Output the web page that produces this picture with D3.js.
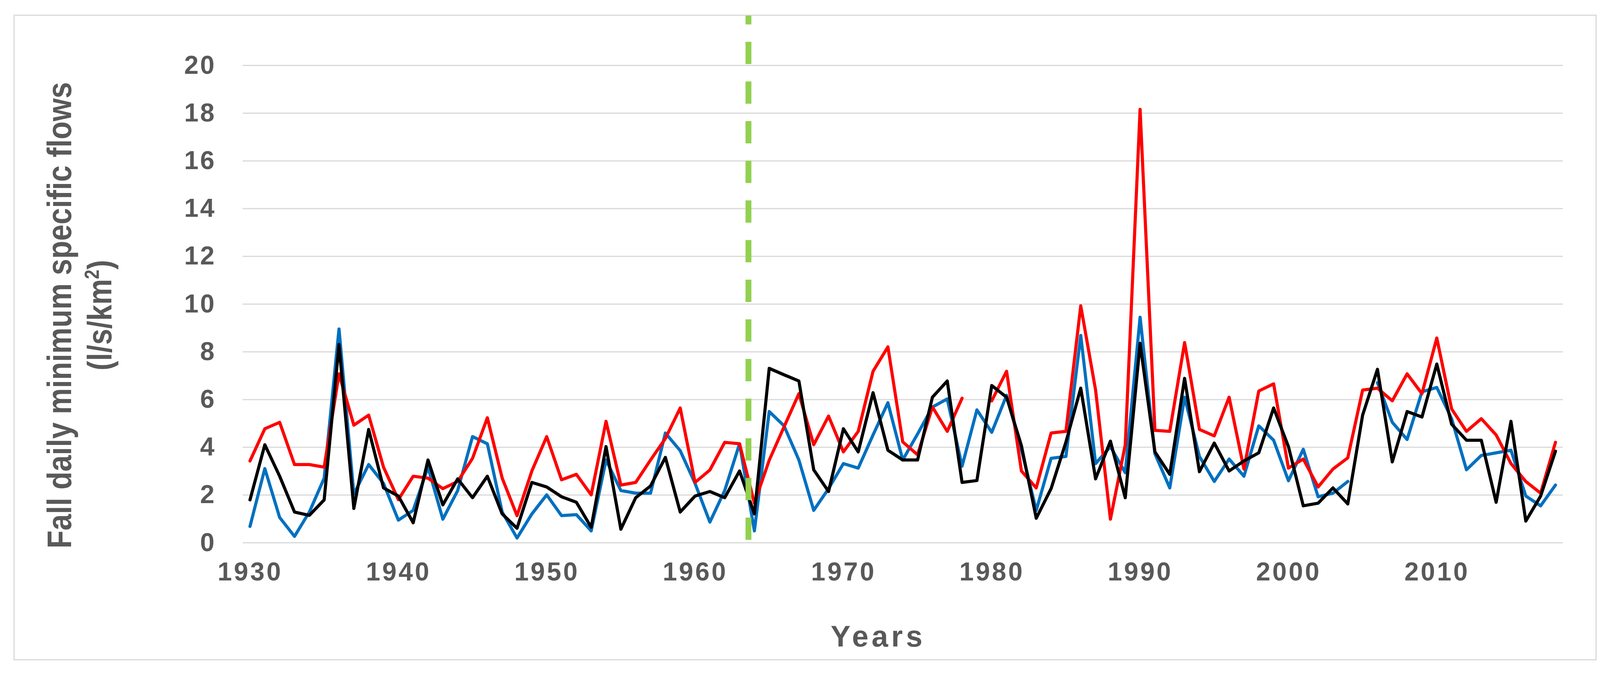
<!DOCTYPE html>
<html>
<head>
<meta charset="utf-8">
<script src="https://cdn.jsdelivr.net/npm/d3@7"></script>
<style>
  body { margin: 0; background: #fff; }
  text { font-family: "Liberation Sans", Arial, sans-serif; font-weight: bold; fill: #595959; }
</style>
</head>
<body>
<svg id="chart"></svg>
<script>
// years 1930..2018
var years = d3.range(1930, 2019);

var blueSeries = [
  0.68, 3.1, 1.05, 0.26, 1.28, 2.7, 8.95, 2.03, 3.27, 2.48,
  0.94, 1.35, 3.16, 0.98, 2.18, 4.44, 4.14, 1.28, 0.19, 1.2,
  2.0, 1.13, 1.17, 0.49, 3.46, 2.18, 2.07, 2.07, 4.59, 3.85,
  2.48, 0.86, 2.18, 4.14, 0.49, 5.49, 4.89, 3.46, 1.35, 2.26,
  3.31, 3.12, 4.51, 5.86, 3.46, 4.55, 5.68, 6.02, 3.2, 5.56,
  4.62, 6.17, 3.9, 1.35, 3.53, 3.61, 8.68, 3.31, 4.02, 2.93,
  9.44, 3.72, 2.29, 6.09, 3.61, 2.56, 3.5, 2.78, 4.89, 4.29,
  2.59, 3.91, 1.92, 2.07, 2.56, null, 6.7, 5.04, 4.32, 6.32,
  6.5, 5.19, 3.05, 3.65, 3.76, 3.87, 1.95, 1.54, 2.41
];

var redSeries = [
  3.42, 4.77, 5.04, 3.27, 3.27, 3.16, 7.07, 4.92, 5.34, 3.16,
  1.8, 2.78, 2.7, 2.26, 2.56, 3.53, 5.23, 2.7, 1.13, 3.0,
  4.44, 2.63, 2.86, 2.0, 5.08, 2.41, 2.52, 3.46, 4.36, 5.64,
  2.52, 3.04, 4.2, 4.14, 1.65, 3.45, 4.85, 6.24, 4.1, 5.3,
  3.8, 4.66, 7.18, 8.2, 4.22, 3.68, 5.68, 4.66, 6.05, null,
  5.94, 7.18, 3.0, 2.29, 4.59, 4.66, 9.92, 6.39, 0.98, 4.1,
  18.15, 4.7, 4.66, 8.38, 4.74, 4.47, 6.09, 3.08, 6.35, 6.65,
  3.12, 3.5, 2.33, 3.08, 3.55, 6.39, 6.47, 5.94, 7.07, 6.24,
  8.57, 5.6, 4.66, 5.19, 4.51, 3.31, 2.56, 2.07, 4.2
];

var blackSeries = [
  1.79, 4.1, 2.78, 1.28, 1.14, 1.79, 8.3, 1.43, 4.74, 2.29,
  1.95, 0.83, 3.46, 1.58, 2.67, 1.88, 2.78, 1.2, 0.6, 2.52,
  2.33, 1.92, 1.69, 0.64, 4.02, 0.56, 1.88, 2.37, 3.57, 1.28,
  1.95, 2.14, 1.88, 3.0, 1.2, 7.3, 7.03, 6.77, 3.05, 2.14,
  4.77, 3.8, 6.28, 3.87, 3.46, 3.46, 6.09, 6.77, 2.52, 2.6,
  6.58, 6.09, 4.06, 1.02, 2.26, 4.21, 6.47, 2.67, 4.25, 1.88,
  8.35, 3.8, 2.86, 6.88, 2.97, 4.17, 3.0, 3.42, 3.76, 5.64,
  4.02, 1.54, 1.65, 2.29, 1.62, 5.34, 7.26, 3.38, 5.49, 5.26,
  7.48, 4.96, 4.29, 4.29, 1.69, 5.08, 0.9, 1.95, 3.83
];

var yTicks = [0, 2, 4, 6, 8, 10, 12, 14, 16, 18, 20];
var xTickYears = [1930, 1940, 1950, 1960, 1970, 1980, 1990, 2000, 2010];
var breakYear = 1963;   // dashed line sits just after this year
var breakOffset = 0.6;  // fraction of a category step

var W = 4124, H = 1728;
var plotLeft = 621, plotRight = 4001, plotTop = 167, plotBottom = 1389;

var svg = d3.select("#chart").attr("width", W).attr("height", H);

svg.append("rect")
  .attr("x", 36).attr("y", 39)
  .attr("width", 4086 - 36).attr("height", 1689 - 39)
  .attr("fill", "#fff")
  .attr("stroke", "#d9d9d9")
  .attr("stroke-width", 3);

var x = d3.scalePoint()
  .domain(years)
  .range([plotLeft, plotRight])
  .padding(0.5);

var y = d3.scaleLinear()
  .domain([0, 20])
  .range([plotBottom, plotTop]);

// y axis + gridlines
var yAxis = svg.append("g")
  .attr("transform", "translate(" + plotLeft + ",0)")
  .call(d3.axisLeft(y).tickValues(yTicks).tickSize(-(plotRight - plotLeft)).tickPadding(68));
yAxis.select(".domain").remove();
yAxis.selectAll(".tick line").attr("stroke", "#d9d9d9").attr("stroke-width", 3);
yAxis.selectAll(".tick text")
  .attr("font-size", 66)
  .attr("letter-spacing", 4)
  .attr("fill", "#595959")
  .attr("font-family", "Liberation Sans, Arial, sans-serif")
  .attr("font-weight", "bold");

// x axis labels
var xAxis = svg.append("g")
  .attr("transform", "translate(0," + plotBottom + ")")
  .call(d3.axisBottom(x).tickValues(xTickYears).tickSize(0).tickPadding(50));
xAxis.select(".domain").remove();
xAxis.selectAll(".tick text")
  .attr("font-size", 66)
  .attr("letter-spacing", 5)
  .attr("fill", "#595959")
  .attr("font-family", "Liberation Sans, Arial, sans-serif")
  .attr("font-weight", "bold");

// series
var line = d3.line()
  .defined(function(d) { return d != null; })
  .x(function(d, i) { return x(years[i]); })
  .y(function(d) { return y(d); });

var series = [
  { values: blueSeries, color: "#0070C0" },
  { values: redSeries, color: "#FF0000" },
  { values: blackSeries, color: "#000000" }
];

svg.selectAll("path.series")
  .data(series)
  .enter()
  .append("path")
  .attr("class", "series")
  .attr("d", function(s) { return line(s.values); })
  .attr("fill", "none")
  .attr("stroke", function(s) { return s.color; })
  .attr("stroke-width", 8)
  .attr("stroke-linejoin", "round")
  .attr("stroke-linecap", "round");

// dashed break line
var bx = x(breakYear) + breakOffset * x.step();
svg.append("line")
  .attr("x1", bx).attr("x2", bx)
  .attr("y1", 1382).attr("y2", 40)
  .attr("stroke", "#92D050")
  .attr("stroke-width", 15)
  .attr("stroke-dasharray", "57,44.5");

// axis titles
svg.append("text")
  .attr("x", 2248).attr("y", 1655)
  .attr("text-anchor", "middle")
  .attr("font-size", 76)
  .attr("letter-spacing", 8)
  .text("Years");

svg.append("text")
  .attr("transform", "translate(182,807) rotate(-90)")
  .attr("text-anchor", "middle")
  .attr("font-size", 88)
  .attr("textLength", 1194)
  .attr("lengthAdjust", "spacingAndGlyphs")
  .text("Fall daily minimum specific flows");

var unit = svg.append("text")
  .attr("transform", "translate(285,807) rotate(-90)")
  .attr("text-anchor", "middle")
  .attr("font-size", 88)
  .attr("textLength", 283)
  .attr("lengthAdjust", "spacingAndGlyphs");
unit.append("tspan").text("(l/s/km");
unit.append("tspan").attr("font-size", 52).attr("dy", -32).text("2");
unit.append("tspan").attr("dy", 32).text(")");
</script>
</body>
</html>
